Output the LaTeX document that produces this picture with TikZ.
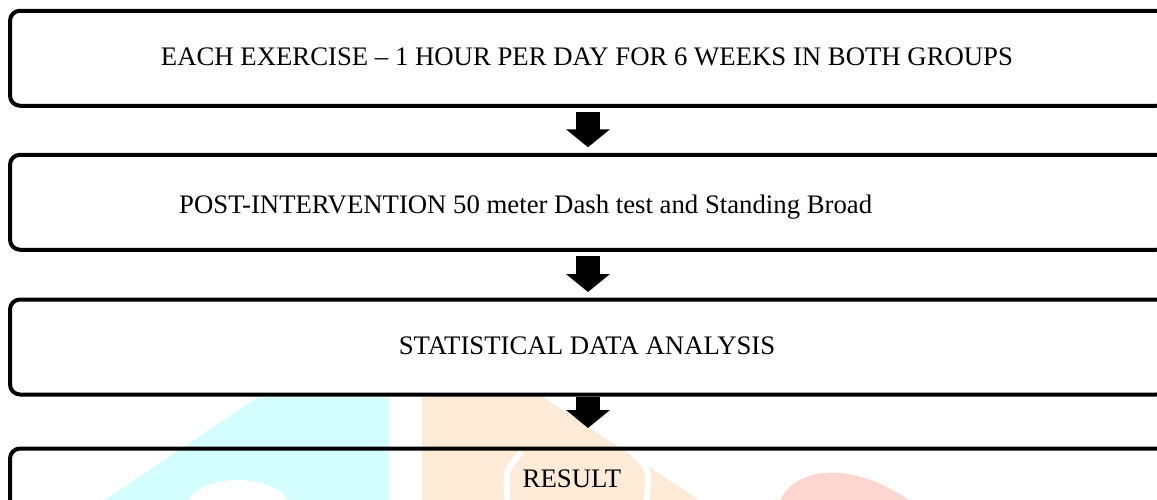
\documentclass[tikz,border=0pt]{standalone}
\usepackage{fontspec}
\setmainfont{Liberation Serif}
\usetikzlibrary{arrows.meta}
\usepackage{xcolor}
\definecolor{markcyan}{HTML}{D4FDFD}
\definecolor{markorange}{HTML}{FDEBD8}
\definecolor{markred}{HTML}{FDD6D0}

\begin{document}
\begin{tikzpicture}[x=1pt, y=-1pt, line join=round,
  stagebox/.style={draw, line width=4pt, rounded corners=10pt,
    minimum width=1156pt, minimum height=95pt, inner sep=0pt, outer sep=0pt},
  stagetext/.style={font=\fontsize{26.75}{32}\selectfont, inner sep=0pt},
  flowarrow/.style={line width=24pt, -{Triangle[width=43pt,length=18pt]}}]
  % Page frame (image is 1157 x 499, y grows downwards)
  \useasboundingbox (0,0) rectangle (1157,499);

  % Faint watermark behind the chart
  \fill[markcyan] (258,397) -- (389,397) -- (389,510) -- (90,510) -- cycle;
  \fill[white] (238,508) ellipse [x radius=52, y radius=28];
  \fill[markorange] (422,397) -- (543,397) -- (714,510) -- (422,510) -- cycle;
  \draw[white, line width=6pt] (522,452) .. controls (505,470) .. (508,505);
  \draw[white, line width=6pt] (632,452) .. controls (650,470) .. (646,505);
  \fill[markred] (778,505) .. controls (792,466) and (852,458) .. (916,505) -- cycle;

  % Stage boxes (right side runs past the page edge)
  \node[stagebox] (box1) at (588,58.25) {};
  \node[stagebox] (box2) at (588,202.25) {};
  \node[stagebox] (box3) at (588,347) {};
  \node[stagebox] (box4) at (588,496) {};

  % Stage texts
  \node[stagetext, anchor=base] (txt1) at (587,65)
    {EACH EXERCISE – 1 HOUR PER DAY FOR 6 WEEKS IN BOTH GROUPS};
  \node[stagetext, anchor=base west] (txt2) at (179,213)
    {POST-INTERVENTION 50 meter Dash test and Standing Broad};
  \node[stagetext, anchor=base] (txt3) at (587,354) {STATISTICAL DATA ANALYSIS};
  \node[stagetext, anchor=base] (txt4) at (572,487) {RESULT};

  % Block arrows between stages
  \draw[flowarrow, shorten <=6.5pt, shorten >=7.5pt] (box1.south) -- (box2.north);
  \draw[flowarrow, shorten <=6pt, shorten >=7.5pt] (box2.south) -- (box3.north);
  \draw[flowarrow, shorten <=2.5pt, shorten >=20.5pt] (box3.south) -- (box4.north);
\end{tikzpicture}
\end{document}
